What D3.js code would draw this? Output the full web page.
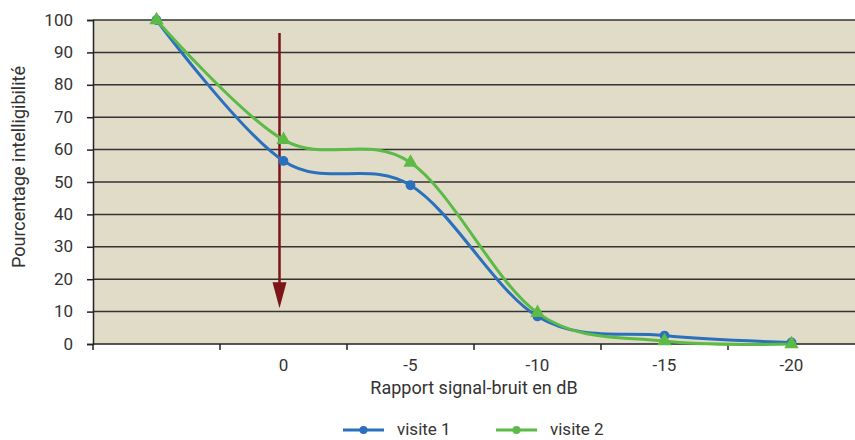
<!DOCTYPE html>
<html>
<head>
<meta charset="utf-8">
<script src="https://cdn.jsdelivr.net/npm/d3@7"></script>
<style>
    body { margin: 0; background: #fff; }
    svg text { font-family: "Roboto", sans-serif; fill: #333; }
</style>
</head>
<body>
<div id="chart"></div>
<script>

// Categories of the x-axis (first one has no label)
var categories = ["", "0", "-5", "-10", "-15", "-20"];
var visite1 = [100, 56.5, 49, 8.5, 2.6, 0.5];
var visite2 = [100, 63, 56, 9.6, 0.9, 0];
var yTicks = [0, 10, 20, 30, 40, 50, 60, 70, 80, 90, 100];
var arrowFrom = 96, arrowTo = 11;   // arrow on the "0" category

var width = 855, height = 440;
var margin = {top: 20, right: 0, bottom: 96, left: 93};
var plotW = width - margin.left - margin.right;
var plotH = height - margin.top - margin.bottom;

var svg = d3.select("#chart")
    .append("svg")
    .attr("width", width)
    .attr("height", height);

var g = svg.append("g")
    .attr("transform", "translate(" + margin.left + "," + margin.top + ")");

var x = d3.scaleBand()
    .domain(d3.range(categories.length))
    .range([0, plotW]);

var y = d3.scaleLinear()
    .domain([0, 100])
    .range([plotH, 0]);

// Background of the plot area
g.append("rect")
    .attr("width", plotW)
    .attr("height", plotH)
    .attr("fill", "#e1dcc8");

// Horizontal grid lines
g.selectAll(".grid")
    .data(yTicks.filter(function (d) { return d > 0; }))
    .enter()
    .append("line")
    .attr("x1", 0)
    .attr("x2", plotW)
    .attr("y1", function (d) { return y(d); })
    .attr("y2", function (d) { return y(d); })
    .attr("stroke", "#333")
    .attr("stroke-width", 1.5);

// Y-axis
var yAxis = g.append("g")
    .call(d3.axisLeft(y).tickValues(yTicks).tickSize(6).tickPadding(14));
yAxis.select(".domain").attr("stroke", "#222").attr("stroke-width", 1.5);
yAxis.selectAll(".tick line").attr("stroke", "#222").attr("stroke-width", 1.5);
yAxis.selectAll("text").style("font-size", "17px").attr("fill", "#333").attr("dy", "0.3em");

// X-axis: ticks at band boundaries, labels at band centres
var xAxis = g.append("g")
    .attr("transform", "translate(0," + plotH + ")");
xAxis.append("line")
    .attr("x1", 0).attr("x2", plotW)
    .attr("stroke", "#222").attr("stroke-width", 1.5);
xAxis.selectAll(".xtick")
    .data(d3.range(categories.length))
    .enter()
    .append("line")
    .attr("x1", function (d) { return x(d); })
    .attr("x2", function (d) { return x(d); })
    .attr("y1", 0).attr("y2", 6)
    .attr("stroke", "#222").attr("stroke-width", 1.5);
xAxis.selectAll(".xlabel")
    .data(categories)
    .enter()
    .append("text")
    .attr("x", function (d, i) { return x(i) + x.bandwidth() / 2; })
    .attr("y", 27)
    .attr("text-anchor", "middle")
    .style("font-size", "17px")
    .text(function (d) { return d; });

// Axis titles
svg.append("text")
    .attr("x", margin.left + plotW / 2)
    .attr("y", 394)
    .attr("text-anchor", "middle")
    .style("font-size", "18px")
    .text("Rapport signal-bruit en dB");

svg.append("text")
    .attr("transform", "translate(25,167)rotate(-90)")
    .attr("text-anchor", "middle")
    .style("font-size", "18px")
    .text("Pourcentage intelligibilité");

// Arrow
var ax = x(1) + x.bandwidth() / 2 - 4;
g.append("line")
    .attr("x1", ax).attr("x2", ax)
    .attr("y1", y(arrowFrom)).attr("y2", y(arrowTo) - 20)
    .attr("stroke", "#7b1518").attr("stroke-width", 2.5);
g.append("path")
    .attr("d", "M" + (ax - 7) + "," + (y(arrowTo) - 26) + "L" + (ax + 7) + "," + (y(arrowTo) - 26) + "L" + ax + "," + y(arrowTo) + "Z")
    .attr("fill", "#7b1518");

// Series
var series = [
    {name: "visite 1", values: visite1, color: "#2b70bd", marker: "circle"},
    {name: "visite 2", values: visite2, color: "#5cba47", marker: "triangle"}
];

var line = d3.line()
    .x(function (d, i) { return x(i) + x.bandwidth() / 2; })
    .y(function (d) { return y(d); })
    .curve(d3.curveCatmullRom.alpha(0));

series.forEach(function (s) {
    g.append("path")
        .datum(s.values)
        .attr("d", line)
        .attr("fill", "none")
        .attr("stroke", s.color)
        .attr("stroke-width", 3);
});

series.forEach(function (s) {
    var sym = d3.symbol()
        .type(s.marker === "circle" ? d3.symbolCircle : d3.symbolTriangle)
        .size(s.marker === "circle" ? 75 : 90);
    g.selectAll(".m-" + s.marker)
        .data(s.values)
        .enter()
        .append("path")
        .attr("d", sym)
        .attr("transform", function (d, i) {
            return "translate(" + (x(i) + x.bandwidth() / 2) + "," + y(d) + ")";
        })
        .attr("fill", s.color);
});

// Legend
var legend = svg.append("g").attr("transform", "translate(343,430)");
series.forEach(function (s, i) {
    var lg = legend.append("g").attr("transform", "translate(" + (i * 153) + ",0)");
    lg.append("line")
        .attr("x1", 0).attr("x2", 41)
        .attr("stroke", s.color).attr("stroke-width", 3);
    lg.append("circle")
        .attr("cx", 20.5).attr("r", 4)
        .attr("fill", s.color);
    lg.append("text")
        .attr("x", 54)
        .attr("y", 5)
        .style("font-size", "17px")
        .text(s.name);
});

</script>
</body>
</html>
